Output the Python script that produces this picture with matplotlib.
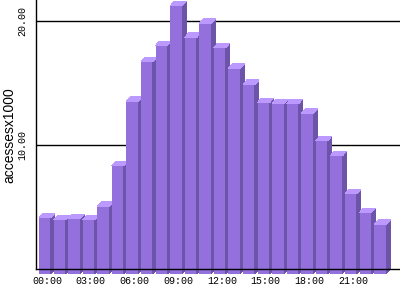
import matplotlib
matplotlib.use("Agg")
import matplotlib.pyplot as plt
from matplotlib.patches import Polygon

hours = ["%02d:00" % h for h in range(24)]
accesses = [4.54, 4.35, 4.46, 4.35, 5.43, 8.73, 13.9, 17.12, 18.41, 21.6, 19.06, 20.19,
            18.25, 16.56, 15.27, 13.81, 13.73, 13.73, 12.93, 10.75, 9.52, 6.45, 4.94, 3.98]
ytick_vals = [10, 20]
ytick_labels = ["10.00", "20.00"]

front_col = "#9370db"
side_col = "#6c55a8"
top_col = "#bb99ff"
w = 0.82    # front face width
dx = 0.275  # depth, x
dy = 0.36   # depth, y

fig = plt.figure(figsize=(4, 3), dpi=100)
ax = fig.add_axes([36 / 400, 1 - 269.3 / 300, 364 / 400, 269.3 / 300])

for i, v in enumerate(accesses):
    ax.bar(i, v, width=w, bottom=-dy, color=front_col, linewidth=0, zorder=2,
           clip_on=False, antialiased=False)
    r = i + w / 2
    l = i - w / 2
    side = Polygon([(r, -dy), (r + dx, 0), (r + dx, v), (r, v - dy)],
                   closed=True, facecolor=side_col, linewidth=0, zorder=2,
                   clip_on=False, antialiased=False)
    top = Polygon([(l, v - dy), (l + dx, v), (r + dx, v), (r, v - dy)],
                  closed=True, facecolor=top_col, linewidth=0, zorder=2,
                  clip_on=False, antialiased=False)
    ax.add_patch(side)
    ax.add_patch(top)

ax.set_xlim(-0.618, 24.365)
ax.set_ylim(0, 21.72)

ax.set_xticks([i + dx / 2 for i in range(0, 24, 3)])
ax.set_xticklabels(hours[::3], family="Liberation Mono", fontsize=7.2)
ax.set_yticks(ytick_vals)
ax.set_yticklabels(ytick_labels, family="Liberation Mono", fontsize=7.2, rotation=90, va="center")
ax.tick_params(axis="both", length=0)
ax.tick_params(axis="x", pad=5)
ax.tick_params(axis="y", pad=6)

ax.yaxis.grid(True, color="black", linewidth=1)
ax.set_axisbelow(True)
ax.spines["top"].set_visible(False)
ax.spines["right"].set_visible(False)
ax.spines["left"].set_zorder(5)
ax.spines["bottom"].set_zorder(5)
ax.spines["left"].set_linewidth(1)
ax.spines["bottom"].set_linewidth(1)

ax.set_ylabel("accessesx1000", family="Liberation Sans", fontsize=10, labelpad=1)

plt.savefig("out.png", dpi=100)
